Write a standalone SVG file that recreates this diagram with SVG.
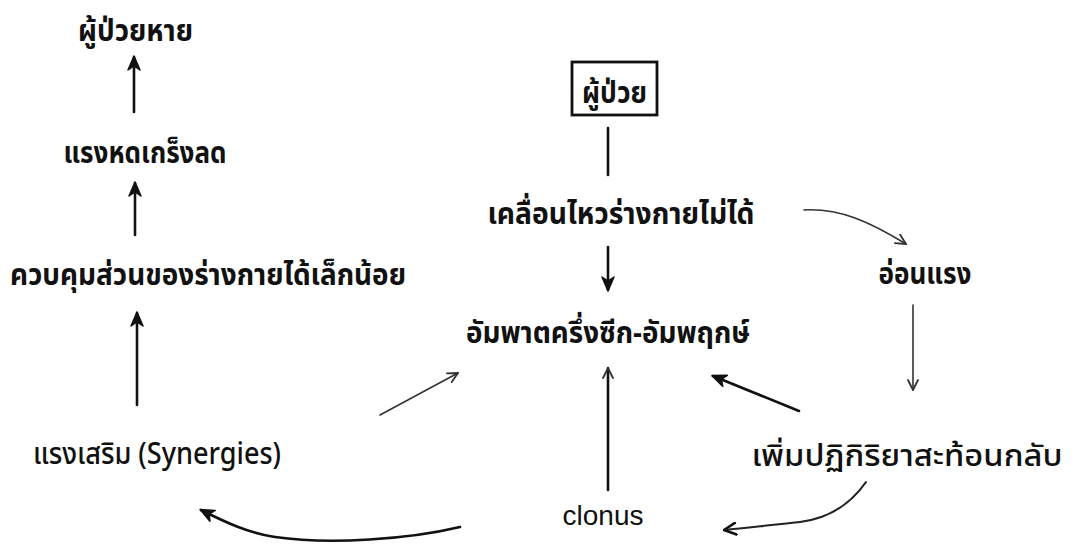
<svg xmlns="http://www.w3.org/2000/svg" width="1075" height="546" viewBox="0 0 1075 546">
<style>
.t{font-family:"Noto Sans Thai","Noto Sans","DejaVu Sans",sans-serif;font-weight:bold;font-size:30px;fill:#111;}
.r{font-weight:500;}
.e{font-family:"Liberation Sans",Arial,sans-serif;font-size:28px;fill:#111;}
.c{fill:none;stroke:#111;stroke-width:2.6;stroke-linecap:round;}
.g{fill:none;stroke:#333;stroke-width:1.6;stroke-linecap:round;}
.m{fill:none;stroke:#222;stroke-width:2.1;stroke-linecap:round;}
</style>
<defs>
<marker id="ah" viewBox="0 0 16 14" refX="14" refY="7" markerWidth="16" markerHeight="14" markerUnits="userSpaceOnUse" orient="auto">
<path d="M15,7 L1,1 L5,7 L1,13 Z" fill="#111" stroke="#111" stroke-width="1.5" stroke-linejoin="round"/>
</marker>
<marker id="ahg" viewBox="0 0 12 12" refX="11" refY="6" markerWidth="12" markerHeight="12" markerUnits="userSpaceOnUse" orient="auto">
<path d="M1,1 L11,6 L1,11" fill="none" stroke="#333" stroke-width="1.8" stroke-linecap="round" stroke-linejoin="round"/>
</marker>
<marker id="ahv" viewBox="0 0 14 14" refX="13" refY="7" markerWidth="14" markerHeight="14" markerUnits="userSpaceOnUse" orient="auto">
<path d="M1,1 L13,7 L1,13" fill="none" stroke="#111" stroke-width="2.6" stroke-linecap="round" stroke-linejoin="round"/>
</marker>
</defs>
<rect width="1075" height="546" fill="#fff"/>
<g id="n-recovered"><text class="t" x="135.5" y="41" text-anchor="middle" textLength="115" lengthAdjust="spacingAndGlyphs">ผู้ป่วยหาย</text></g>
<g id="n-spasticity-down"><text class="t" x="145" y="163" text-anchor="middle" textLength="163" lengthAdjust="spacingAndGlyphs">แรงหดเกร็งลด</text></g>
<g id="n-control"><text class="t" x="208" y="285" text-anchor="middle" textLength="396" lengthAdjust="spacingAndGlyphs">ควบคุมส่วนของร่างกายได้เล็กน้อย</text></g>
<g id="n-synergies"><text class="t r" x="157" y="464" text-anchor="middle" textLength="248" lengthAdjust="spacingAndGlyphs">แรงเสริม (Synergies)</text></g>
<g id="n-patient"><rect x="572" y="62" width="85" height="53" fill="none" stroke="#111" stroke-width="2.8"/><text class="t" x="614.5" y="103" text-anchor="middle" textLength="65" lengthAdjust="spacingAndGlyphs">ผู้ป่วย</text></g>
<g id="n-immobile"><text class="t" x="621" y="224" text-anchor="middle" textLength="267" lengthAdjust="spacingAndGlyphs">เคลื่อนไหวร่างกายไม่ได้</text></g>
<g id="n-hemiplegia"><text class="t" x="608" y="343" text-anchor="middle" textLength="284" lengthAdjust="spacingAndGlyphs">อัมพาตครึ่งซีก-อัมพฤกษ์</text></g>
<g id="n-weak"><text class="t" x="925" y="284" text-anchor="middle" textLength="93" lengthAdjust="spacingAndGlyphs">อ่อนแรง</text></g>
<g id="n-reflex"><text class="t r" x="907" y="466" text-anchor="middle" textLength="311" lengthAdjust="spacingAndGlyphs">เพิ่มปฏิกิริยาสะท้อนกลับ</text></g>
<g id="n-clonus"><text class="e" x="603" y="525" text-anchor="middle">clonus</text></g>
<g id="connectors">
<line class="c" x1="134" y1="112" x2="134" y2="57" marker-end="url(#ah)"/>
<line class="c" x1="135" y1="235" x2="135" y2="183" marker-end="url(#ah)"/>
<line class="c" x1="137" y1="405" x2="137" y2="313" marker-end="url(#ah)"/>
<line class="g" x1="380" y1="415" x2="458" y2="373" marker-end="url(#ahg)"/>
<path class="c" d="M460,527 C410,539 330,545 275,537 C248,533 225,522 201,510" marker-end="url(#ah)"/>
<line class="c" x1="608" y1="128" x2="608" y2="175"/>
<line class="c" x1="608" y1="247" x2="608" y2="290" marker-end="url(#ah)"/>
<line class="c" x1="608" y1="490" x2="608" y2="368" marker-end="url(#ahg)"/>
<line class="c" x1="799" y1="411" x2="713" y2="376" marker-end="url(#ah)"/>
<path class="m" d="M866,482 C852,502 832,518 800,522 C775,525 750,527 724,530" marker-end="url(#ahv)"/>
<line class="g" x1="913" y1="305" x2="913" y2="390" marker-end="url(#ahg)"/>
<path class="g" d="M804,210 C840,208 870,222 906,244" marker-end="url(#ahg)"/>
</g>
</svg>
